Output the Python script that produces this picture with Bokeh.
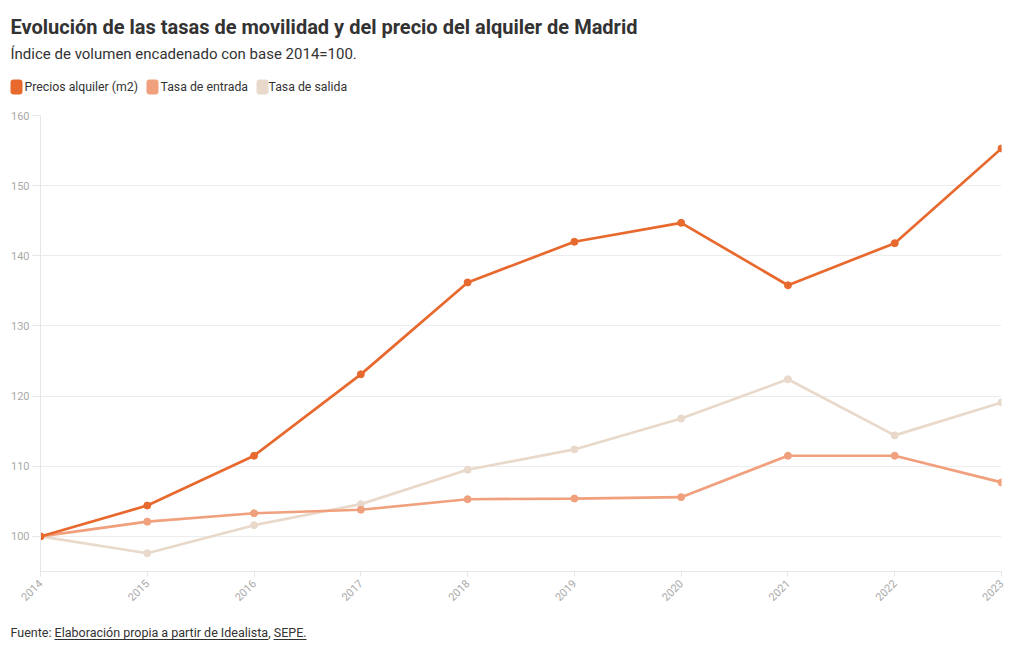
import math
from bokeh.plotting import figure
from bokeh.layouts import column
from bokeh.models import Range1d, FixedTicker
from bokeh.core.properties import value
from bokeh.embed import file_html
from bokeh.resources import INLINE

years = [2014, 2015, 2016, 2017, 2018, 2019, 2020, 2021, 2022, 2023]
precios = [100.0, 104.4, 111.5, 123.1, 136.2, 142.0, 144.7, 135.8, 141.8, 155.3]
entrada = [100.0, 102.1, 103.3, 103.8, 105.3, 105.4, 105.6, 111.5, 111.5, 107.7]
salida = [100.0, 97.6, 101.6, 104.6, 109.5, 112.4, 116.8, 122.4, 114.4, 119.1]
y_ticks = [100, 110, 120, 130, 140, 150, 160]

names = ["Precios alquiler (m2)", "Tasa de entrada", "Tasa de salida"]
colors = ["#e8692e", "#f0a07c", "#e9d9cb"]

title_text = "Evolución de las tasas de movilidad y del precio del alquiler de Madrid"
subtitle_text = "Índice de volumen encadenado con base 2014=100."
source_prefix = "Fuente: "
source_links = ["Elaboración propia a partir de Idealista", "SEPE."]

FONT = "Roboto"
TXT = "#333333"
W = 1020
HEAD_H, MAIN_H, FOOT_H = 100, 515, 35


def no_align(f):
    if "frame_align" in f.properties():
        f.frame_align = False
    return f


def blank(height):
    f = figure(width=W, height=height, output_backend="svg", toolbar_location=None,
               x_range=Range1d(0, W), y_range=Range1d(height, 0),
               x_axis_type=None, y_axis_type=None, min_border=0)
    f.outline_line_color = None
    f.xgrid.visible = False
    f.ygrid.visible = False
    f.background_fill_color = "white"
    f.border_fill_color = "white"
    return no_align(f)


# ---------- header: title, subtitle, legend ----------
head = blank(HEAD_H)
head.text(x=[10], y=[26.5], text=[title_text], text_font=value(FONT), text_font_size="20px",
          text_font_style="bold", text_color=TXT, text_baseline="alphabetic")
head.text(x=[10], y=[53.5], text=[subtitle_text], text_font=value(FONT), text_font_size="15px",
          text_color=TXT, text_baseline="alphabetic")
swatch_left = [10, 146, 256]
label_left = [24, 160, 268]
head.quad(left=swatch_left, right=[v + 12 for v in swatch_left], top=[79] * 3, bottom=[94] * 3,
          fill_color=colors, line_color=None, border_radius=3)
head.text(x=label_left, y=[86.5] * 3, text=names, text_font=value(FONT),
          text_font_size="12.3px", text_color=TXT, text_baseline="alphabetic")

# ---------- main chart ----------
p = figure(width=W, height=MAIN_H, output_backend="svg", toolbar_location=None,
           x_range=Range1d(2014, 2023), y_range=Range1d(95, 160),
           min_border_left=40, min_border_right=19, min_border_top=15, min_border_bottom=44)
no_align(p)
p.outline_line_color = None
p.background_fill_color = "white"
p.border_fill_color = "white"

series = [precios, entrada, salida]
for i in [2, 1, 0]:
    p.line(years, series[i], line_color=colors[i], line_width=2.7)
    p.scatter(years, series[i], size=7, fill_color=colors[i], line_color=colors[i])

p.xaxis.ticker = FixedTicker(ticks=years)
p.yaxis.ticker = FixedTicker(ticks=y_ticks)
p.xaxis.major_label_orientation = math.pi / 4
for ax in (p.xaxis, p.yaxis):
    ax.axis_line_color = "#e6e6e6"
    ax.major_tick_line_color = "#e6e6e6"
    ax.minor_tick_line_color = None
    ax.major_tick_in = 0
    ax.major_label_text_color = "#aaaaaa"
    ax.major_label_text_font = FONT
    ax.major_label_text_font_size = "11px"
p.xaxis.major_tick_out = 5
p.yaxis.major_tick_out = 8
p.yaxis.major_label_standoff = 3
p.xgrid.grid_line_color = None
p.ygrid.grid_line_color = "#ededed"

# ---------- footer: source ----------
foot = blank(FOOT_H)
foot.text(x=[10], y=[16.5], text=[source_prefix + source_links[0] + ", " + source_links[1]],
          text_font=value(FONT), text_font_size="12.5px", text_color=TXT,
          text_baseline="alphabetic")
foot.segment(x0=[54, 273], x1=[268, 306], y0=[24, 24], y1=[24, 24],
             line_color=TXT, line_width=1)

layout = column(head, p, foot, spacing=0)
open("out.html", "w").write(file_html(layout, INLINE))
